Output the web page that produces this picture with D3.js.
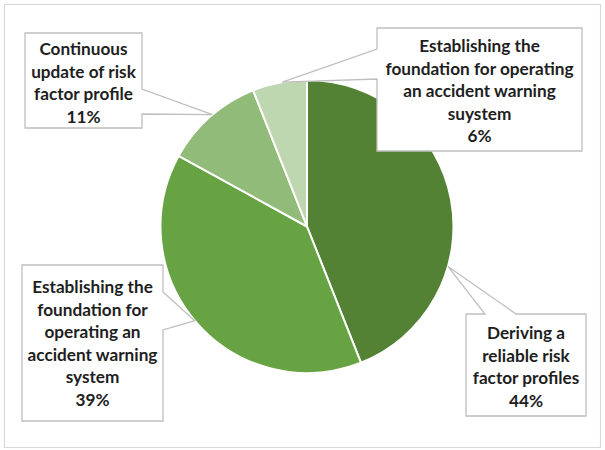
<!DOCTYPE html>
<html>
<head>
<meta charset="utf-8">
<script src="https://cdn.jsdelivr.net/npm/d3@7"></script>
<style>
  html, body { margin: 0; padding: 0; background: #fff; }
  svg { display: block; }
  text { font-family: Lato, "Open Sans", sans-serif; font-weight: 700; fill: #1e1e1e; }
</style>
</head>
<body>
<svg id="chart" width="605" height="450"></svg>
<script>
// Share of each work area (percent), in drawing order clockwise from 12 o'clock
const categories = [
  "Deriving a reliable risk factor profiles",
  "Establishing the foundation for operating an accident warning system",
  "Continuous update of risk factor profile",
  "Establishing the foundation for operating an accident warning suystem"
];
const values = [44, 39, 11, 6];
const labelLines = [
  ["Deriving a", "reliable risk", "factor profiles"],
  ["Establishing the", "foundation for", "operating an", "accident warning", "system"],
  ["Continuous", "update of risk", "factor profile"],
  ["Establishing the", "foundation for operating", "an accident warning", "suystem"]
];
const colors = ["#548235", "#68a343", "#91bb79", "#bfd7b0"];

// Callout boxes: rectangle, side carrying the pointer, pointer base span,
// where along the slice the pointer touches, and first text line centre
const callouts = [
  { x: 466, y: 314, w: 120, h: 102, side: "top",   base: [485, 516], at: 0.668, firstLine: 333 },
  { x: 22,  y: 265, w: 141, h: 156, side: "right", base: [292, 330], at: 0.51,  firstLine: 287 },
  { x: 25,  y: 33,  w: 117, h: 95,  side: "right", base: [89, 114],  at: 0.53,  firstLine: 49 },
  { x: 377, y: 28,  w: 205, h: 123, side: "left",  base: [49, 79],   at: 0.55,  firstLine: 46 }
];

const W = 605, H = 450;
const cx = 307, cy = 226.5, radius = 146.5;
const lineGap = 22.5;

const svg = d3.select("#chart");

// chart frame
svg.append("rect")
  .attr("x", 4.5).attr("y", 4.5)
  .attr("width", 596).attr("height", 443)
  .attr("fill", "#fff")
  .attr("stroke", "#d9d9d9")
  .attr("stroke-width", 1.2);

const pie = d3.pie().sort(null).value(d => d)
  .startAngle(0).endAngle(2 * Math.PI);
const arcs = pie(values);
const arc = d3.arc().innerRadius(0).outerRadius(radius);

const g = svg.append("g").attr("transform", `translate(${cx},${cy})`);
g.selectAll("path.slice")
  .data(arcs)
  .join("path")
  .attr("class", "slice")
  .attr("d", arc)
  .attr("fill", (d, i) => colors[i])
  .attr("stroke", "#fff")
  .attr("stroke-width", 2)
  .attr("stroke-linejoin", "round");

// callout shapes with pointer to the slice edge
function calloutPath(c, tip) {
  const x0 = c.x, y0 = c.y, x1 = c.x + c.w, y1 = c.y + c.h;
  const p = d3.path();
  if (c.side === "top") {
    p.moveTo(x0, y0);
    p.lineTo(c.base[0], y0); p.lineTo(tip[0], tip[1]); p.lineTo(c.base[1], y0);
    p.lineTo(x1, y0); p.lineTo(x1, y1); p.lineTo(x0, y1);
  } else if (c.side === "right") {
    p.moveTo(x0, y0); p.lineTo(x1, y0);
    p.lineTo(x1, c.base[0]); p.lineTo(tip[0], tip[1]); p.lineTo(x1, c.base[1]);
    p.lineTo(x1, y1); p.lineTo(x0, y1);
  } else {
    p.moveTo(x0, y0); p.lineTo(x1, y0); p.lineTo(x1, y1); p.lineTo(x0, y1);
    p.lineTo(x0, c.base[1]); p.lineTo(tip[0], tip[1]); p.lineTo(x0, c.base[0]);
  }
  p.closePath();
  return p.toString();
}

const fmt = d3.format(".0f");

arcs.forEach((a, i) => {
  const c = callouts[i];
  const ang = a.startAngle + (a.endAngle - a.startAngle) * c.at;
  const tip = [cx + radius * Math.sin(ang), cy - radius * Math.cos(ang)];

  const grp = svg.append("g").attr("class", "callout");
  grp.append("path")
    .attr("d", calloutPath(c, tip))
    .attr("fill", "#fff")
    .attr("stroke", "#bfbfbf")
    .attr("stroke-width", 1.3)
    .attr("stroke-linejoin", "miter");

  const lines = labelLines[i].concat([fmt(a.data) + "%"]);
  const t = grp.append("text")
    .attr("text-anchor", "middle")
    .attr("font-size", 17.2);
  lines.forEach((ln, k) => {
    t.append("tspan")
      .attr("x", c.x + c.w / 2)
      .attr("y", c.firstLine + k * lineGap)
      .attr("dy", "0.36em")
      .text(ln);
  });
});
</script>
</body>
</html>
